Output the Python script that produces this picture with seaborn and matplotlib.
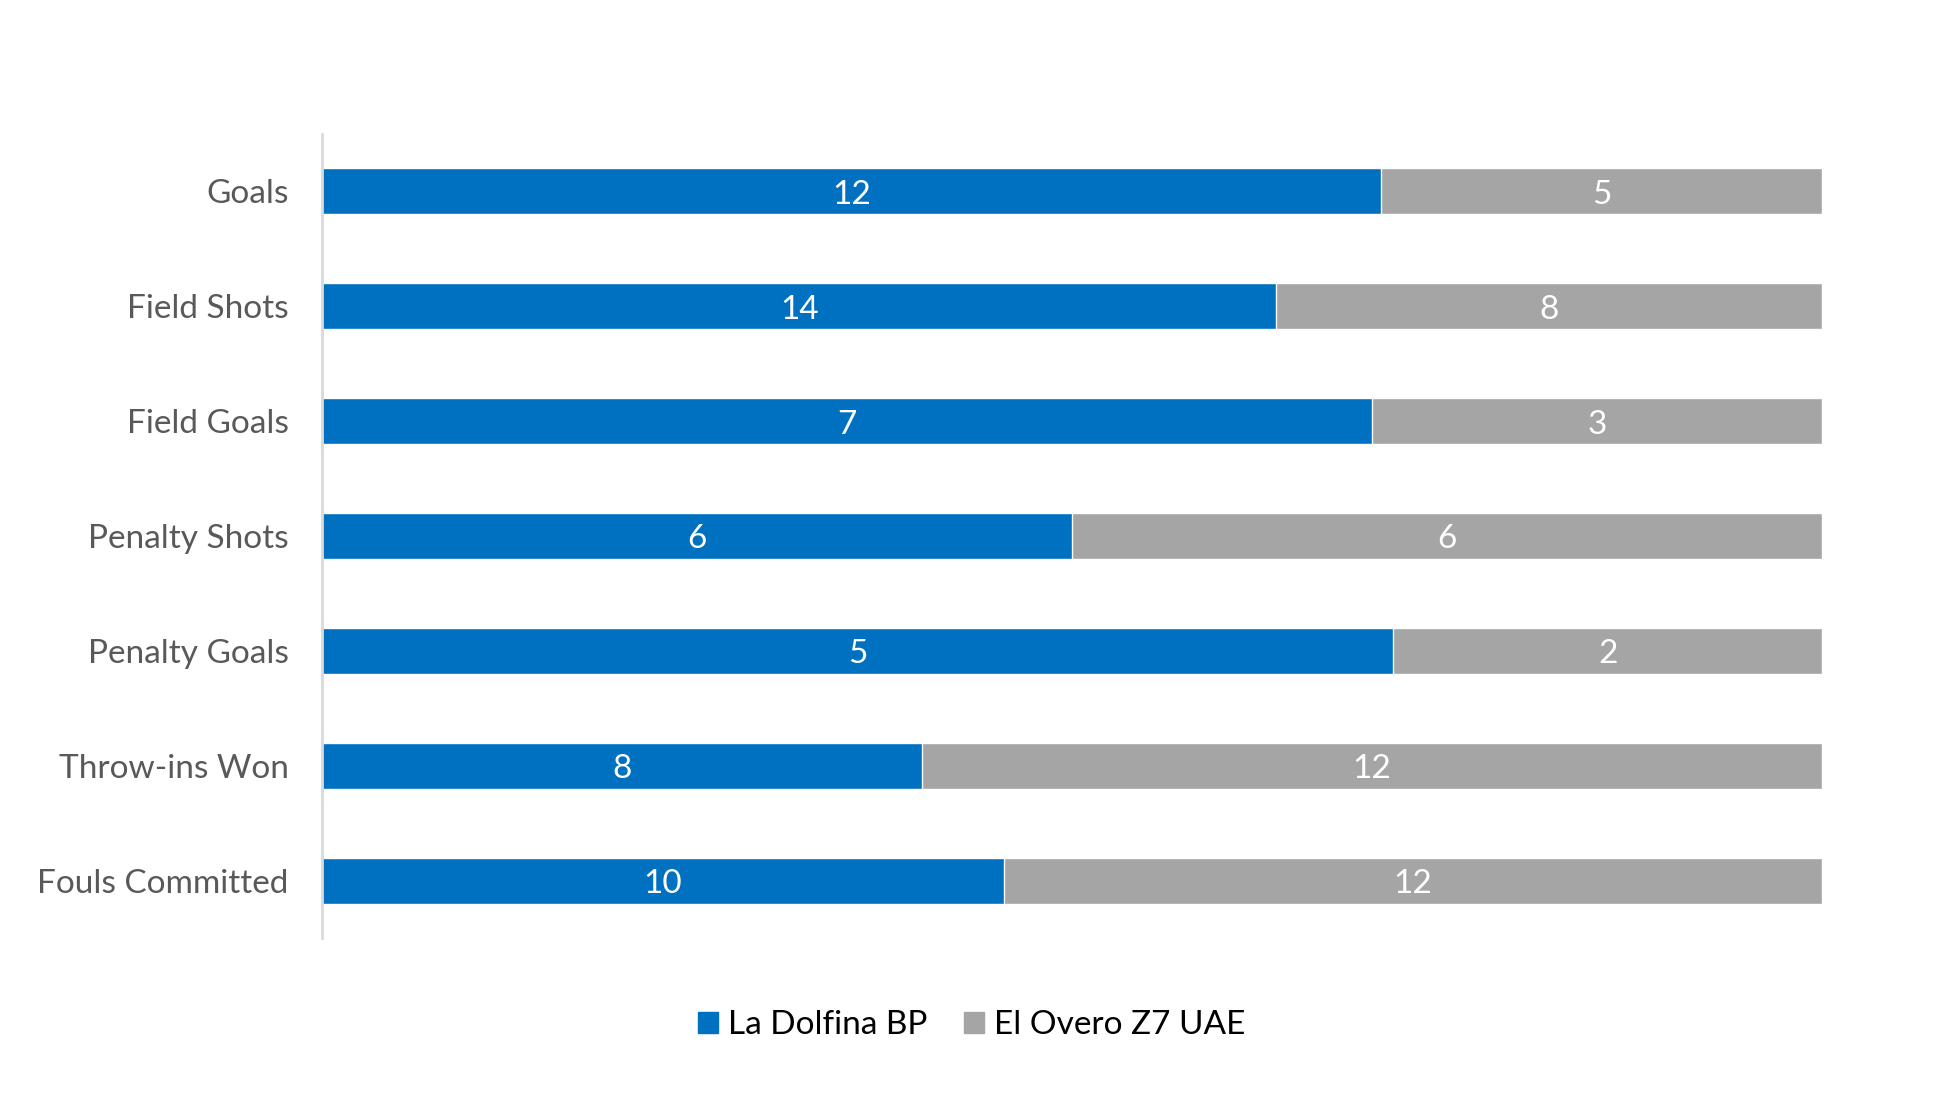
import numpy as np
import pandas as pd
import matplotlib.pyplot as plt
import seaborn as sns
from matplotlib.patches import Patch

categories = ["Goals", "Field Shots", "Field Goals", "Penalty Shots",
              "Penalty Goals", "Throw-ins Won", "Fouls Committed"]
la_dolfina = [12, 14, 7, 6, 5, 8, 10]
el_overo = [5, 8, 3, 6, 2, 12, 12]
team_names = ["La Dolfina BP", "El Overo Z7 UAE"]

BLUE = "#0070C0"
GREY = "#A5A5A5"

df = pd.DataFrame({"stat": categories, "a": la_dolfina, "b": el_overo})
df["total"] = df["a"] + df["b"]
df["a_share"] = df["a"] / df["total"]
df["full"] = 1.0

sns.set_theme(style="white")
plt.rcParams["font.family"] = ["Lato", "DejaVu Sans"]

fig = plt.figure(figsize=(19.43, 10.95), dpi=100)
ax = fig.add_axes([0.1657, 0.1434, 0.772, 0.7342])

# 100% stacked: grey full bar underneath, blue share on top
sns.barplot(data=df, y="stat", x="full", color=GREY, orient="h",
            width=0.4, saturation=1, ax=ax)
sns.barplot(data=df, y="stat", x="a_share", color=BLUE, orient="h",
            width=0.4, saturation=1, ax=ax)

for i, row in df.iterrows():
    ax.text(row["a_share"] / 2, i + 0.03, str(row["a"]), ha="center",
            va="center", color="white", fontsize=24)
    ax.text((1 + row["a_share"]) / 2, i + 0.03, str(row["b"]), ha="center",
            va="center", color="white", fontsize=24)

ax.set_xlim(0, 1)
ax.set_ylim(6.5, -0.5)
ax.set_xlabel("")
ax.set_ylabel("")
ax.set_xticks([])
ax.tick_params(axis="y", length=0, pad=24, labelsize=24, labelcolor="#595959")
for side in ["top", "right", "bottom"]:
    ax.spines[side].set_visible(False)
ax.spines["left"].set_color("#D9D9D9")
ax.spines["left"].set_linewidth(2)

handles = [Patch(color=BLUE, label=team_names[0]),
           Patch(color=GREY, label=team_names[1])]
leg = fig.legend(handles=handles, loc="center", bbox_to_anchor=(0.5, 0.064),
                 ncol=2, frameon=False, fontsize=24, handlelength=0.6,
                 handleheight=0.6, handletextpad=0.3, columnspacing=1.1)
for t in leg.get_texts():
    t.set_color("black")

fig.savefig("out.png", dpi=100)
